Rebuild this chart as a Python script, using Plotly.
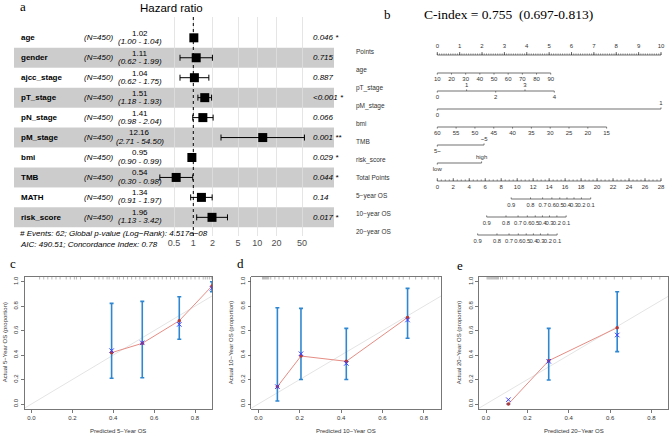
import plotly.graph_objects as go

W, H = 669, 436
SANS = "Liberation Sans, Arial, sans-serif"
SERIF = "Liberation Serif, Times New Roman, serif"

# ---------------- panel a : forest plot data ----------------
variables = ["age", "gender", "ajcc_stage", "pT_stage", "pN_stage",
             "pM_stage", "bmi", "TMB", "MATH", "risk_score"]
n_obs = [450, 450, 450, 450, 450, 450, 450, 450, 450, 450]
hr = [1.02, 1.11, 1.04, 1.51, 1.41, 12.16, 0.95, 0.54, 1.34, 1.96]
hr_low = [1.00, 0.62, 0.62, 1.18, 0.98, 2.71, 0.90, 0.30, 0.91, 1.13]
hr_high = [1.04, 1.99, 1.75, 1.93, 2.04, 54.50, 0.99, 0.98, 1.97, 3.42]
p_labels = ["0.046 *", "0.715", "0.887", "<0.001 *", "0.066",
            "0.001 **", "0.029 *", "0.044 *", "0.14", "0.017 *"]
hr_ticks = [0.5, 1, 2, 5, 10, 20, 50]
hr_ticktext = ["0.5", "1", "2", "5", "10", "20", "50"]
footer_lines = ["# Events: 62; Global p-value (Log\u2212Rank): 4.517e\u221208",
                "AIC: 490.51; Concordance Index: 0.78"]

# ---------------- panel b : nomogram data ----------------
nomo_rows = ["Points", "age", "pT_stage", "pM_stage", "bmi", "TMB", "risk_score",
             "Total Points", "5\u2212year OS", "10\u2212year OS", "20\u2212year OS"]
points_ticks = [0, 1, 2, 3, 4, 5, 6, 7, 8, 9, 10]
age_ticks = [10, 20, 30, 40, 50, 60, 70, 80, 90]
age_scale = ([10, 90], [0.0, 5.07])          # age value -> points
pt_levels = ["0", "1", "2", "3", "4"]
pt_points = [0.0, 1.31, 2.61, 3.92, 5.23]
pm_levels = ["0", "1"]
pm_points = [0.0, 10.0]
bmi_ticks = [60, 55, 50, 45, 40, 35, 30, 25, 20, 15]
bmi_scale = ([60, 15], [0.0, 7.57])
tmb_levels = ["5~", "~5"]
tmb_points = [0.0, 2.09]
risk_levels = ["low", "high"]
risk_points = [0.0, 1.98]
total_ticks = list(range(0, 29, 2))
total_max = 28
surv_labels = ["0.9", "0.8", "0.7", "0.6", "0.5", "0.4", "0.3", "0.2", "0.1"]
os5_tp = [9.25, 11.67, 13.18, 14.34, 15.33, 16.23, 17.11, 18.04, 19.20]
os10_tp = [6.18, 8.60, 10.11, 11.27, 12.26, 13.16, 14.04, 14.97, 16.13]
os20_tp = [5.05, 7.47, 8.98, 10.14, 11.13, 12.03, 12.91, 13.84, 15.00]
cindex_text = "C-index = 0.755 \u00a0(0.697-0.813)"

# ---------------- panels c, d, e : calibration data ----------------
cal_pred = [[0.392, 0.542, 0.723, 0.883],
            [0.092, 0.206, 0.425, 0.721],
            [0.108, 0.303, 0.634]]
cal_obs = [[0.420, 0.496, 0.681, 0.965],
           [0.142, 0.392, 0.349, 0.708],
           [0.000, 0.354, 0.624]]
cal_corr = [[0.436, 0.500, 0.651, 0.946],
            [0.142, 0.411, 0.332, 0.687],
            [0.035, 0.349, 0.564]]
cal_lo = [[0.210, 0.215, 0.529, 0.918],
          [0.025, 0.200, 0.200, 0.537],
          [0.000, 0.196, 0.428]]
cal_hi = [[0.823, 0.839, 0.877, 1.000],
          [0.787, 0.782, 0.618, 0.945],
          [0.000, 0.618, 0.918]]
cal_rug = [
    [0.04, 0.06, 0.08, 0.10, 0.12, 0.14, 0.17, 0.19, 0.21, 0.22, 0.24, 0.31, 0.33,
     0.35, 0.37, 0.38, 0.40, 0.42, 0.43, 0.45, 0.47, 0.49, 0.51, 0.53, 0.55, 0.56,
     0.58, 0.60, 0.62, 0.64, 0.66, 0.68, 0.70, 0.72, 0.74, 0.76, 0.78, 0.80, 0.82,
     0.84, 0.85, 0.86, 0.87, 0.88],
    [0.02, 0.025, 0.03, 0.035, 0.04, 0.045, 0.05, 0.06, 0.08, 0.10, 0.12, 0.15, 0.17,
     0.19, 0.21, 0.23, 0.26, 0.28, 0.30, 0.33, 0.35, 0.38, 0.40, 0.42, 0.45, 0.47,
     0.50, 0.52, 0.55, 0.57, 0.60, 0.62, 0.65, 0.68, 0.70, 0.73, 0.76, 0.79, 0.82,
     0.85, 0.87],
    [0.005, 0.01, 0.015, 0.02, 0.025, 0.03, 0.035, 0.04, 0.045, 0.05, 0.055, 0.06,
     0.07, 0.08, 0.10, 0.13, 0.16, 0.19, 0.22, 0.25, 0.28, 0.31, 0.34, 0.37, 0.40,
     0.43, 0.46, 0.49, 0.52, 0.55, 0.58, 0.62, 0.66, 0.70, 0.75, 0.80, 0.84]]
cal_horizon = ["5", "10", "20"]
cal_xticks = [0, 0.2, 0.4, 0.6, 0.8]
cal_yticks = [0, 0.2, 0.4, 0.6, 0.8, 1.0]


def fx(px):
    return px / W


def fy(py):
    return 1 - py / H


fig = go.Figure()
annotations = []
shapes = []


def ann(text, x, y, size, xref="paper", yref="paper", xanchor="center",
        yanchor="middle", family=SANS, color="black", angle=0):
    annotations.append(dict(text=text, x=x, y=y, xref=xref, yref=yref,
                            xanchor=xanchor, yanchor=yanchor, showarrow=False,
                            textangle=angle,
                            font=dict(family=family, size=size, color=color)))


def segments(x0, y0, x1, y1, xa, ya, color, width, dash="solid"):
    xs, ys = [], []
    for a, b, c, d in zip(x0, y0, x1, y1):
        xs += [a, c, None]
        ys += [b, d, None]
    return go.Scatter(x=xs, y=ys, mode="lines", xaxis=xa, yaxis=ya,
                      line=dict(color=color, width=width, dash=dash),
                      hoverinfo="skip", showlegend=False)


# ===================== panel a =====================
rows = list(range(len(variables)))
# row centre px = 37.8 + 19.95 r ; panel spans px 17..236 vertically, 14..334 horizontally
fy_top, fy_bot = -1.043, 9.935
log_left, log_right = (14 - 193.3) / 64, (334 - 193.3) / 64

for r in rows:
    shapes.append(dict(type="rect", xref="x", yref="y",
                       x0=10 ** log_left, x1=10 ** log_right, y0=r - 0.5, y1=r + 0.5,
                       fillcolor="rgba(0,0,0,0.2)" if r % 2 == 1 else "rgba(255,255,255,0.2)",
                       line=dict(width=0), layer="below"))

fig.add_trace(go.Scatter(x=[1, 1], y=[fy_top, fy_bot], mode="lines",
                         line=dict(color="black", width=1, dash="dot"),
                         xaxis="x", yaxis="y", hoverinfo="skip", showlegend=False))
fig.add_trace(go.Scatter(
    x=hr, y=rows, mode="markers", xaxis="x", yaxis="y",
    marker=dict(symbol="square", size=9, color="black"),
    error_x=dict(type="data", symmetric=False,
                 array=[h - m for h, m in zip(hr_high, hr)],
                 arrayminus=[m - l for m, l in zip(hr, hr_low)],
                 color="black", thickness=1, width=3),
    hoverinfo="skip", showlegend=False))

for r in rows:
    ann("<b>%s</b>" % variables[r], fx(19), r, 8, yref="y", xanchor="left")
    ann("<i>(N=%d)</i>" % n_obs[r], fx(82), r, 8, yref="y", xanchor="left")
    ann("%.2f" % hr[r], fx(139.5), r - 0.23, 8, yref="y")
    ann("<i>(%.2f - %.2f)</i>" % (hr_low[r], hr_high[r]), fx(140), r + 0.18, 8, yref="y")
    ann("<i>%s</i>" % p_labels[r], fx(310.5), r, 8, yref="y", xanchor="left")

ann("<i>%s</i>" % footer_lines[0], fx(18), fy(233.8), 8, xanchor="left")
ann("<i>%s</i>" % footer_lines[1], fx(18), fy(244.2), 8, xanchor="left")
ann("Hazard ratio", fx(171), fy(8), 11.5)
ann("a", fx(23), fy(7), 13, family=SERIF)

# ===================== panel b =====================
def p_of_px(px):
    return (px - 437.3) / 22.37


L0, S = 55.0, 18.0      # px of first axis line, px per row
ny_top, ny_bot = (25 - L0) / S, (262 - L0) / S
t_short = 1.6 / S
t_long = 3.0 / S
below = 6.6 / S
above = 5.2 / S
ncol = "#333333"
nfont = 6.0


def lin(vals, scale):
    (v0, v1), (p0, p1) = scale
    return [p0 + (v - v0) * (p1 - p0) / (v1 - v0) for v in vals]


def text_trace(xs, ys, texts, pos="middle center", size=nfont):
    return go.Scatter(x=xs, y=ys, text=texts, mode="text", textposition=pos,
                      textfont=dict(family=SANS, size=size, color=ncol),
                      xaxis="x2", yaxis="y2", hoverinfo="skip", showlegend=False,
                      cliponaxis=False)


# row labels
fig.add_trace(text_trace([p_of_px(356)] * len(nomo_rows),
                         [r - 0.12 for r in range(len(nomo_rows))],
                         nomo_rows, pos="middle right", size=6.5))

# Points axis (row 0)
r = 0
fig.add_trace(segments([0], [r], [10], [r], "x2", "y2", ncol, 0.7))
minor = [i / 10 for i in range(0, 101)]
fig.add_trace(segments(minor, [r] * len(minor), minor, [r - t_short] * len(minor),
                       "x2", "y2", ncol, 0.5))
fig.add_trace(segments(points_ticks, [r] * 11, points_ticks, [r - t_long] * 11,
                       "x2", "y2", ncol, 0.7))
fig.add_trace(text_trace(points_ticks, [r - 0.45] * 11, [str(v) for v in points_ticks]))

# age (row 1)
r = 1
ap = lin(age_ticks, age_scale)
fig.add_trace(segments([ap[0]], [r], [ap[-1]], [r], "x2", "y2", ncol, 0.7))
fig.add_trace(segments(ap, [r] * len(ap), ap, [r + t_short] * len(ap), "x2", "y2", ncol, 0.6))
fig.add_trace(text_trace(ap, [r + below] * len(ap), [str(v) for v in age_ticks]))

# pT_stage (row 2)
r = 2
fig.add_trace(segments([pt_points[0]], [r], [pt_points[-1]], [r], "x2", "y2", ncol, 0.7))
bel = [i for i in range(len(pt_levels)) if i % 2 == 0]
abv = [i for i in range(len(pt_levels)) if i % 2 == 1]
fig.add_trace(segments([pt_points[i] for i in bel], [r] * len(bel),
                       [pt_points[i] for i in bel], [r + t_short] * len(bel), "x2", "y2", ncol, 0.6))
fig.add_trace(segments([pt_points[i] for i in abv], [r] * len(abv),
                       [pt_points[i] for i in abv], [r - t_short] * len(abv), "x2", "y2", ncol, 0.6))
fig.add_trace(text_trace([pt_points[i] for i in bel], [r + below] * len(bel), [pt_levels[i] for i in bel]))
fig.add_trace(text_trace([pt_points[i] for i in abv], [r - above] * len(abv), [pt_levels[i] for i in abv]))


def two_level(r, pts, labs):
    fig.add_trace(segments([pts[0]], [r], [pts[1]], [r], "x2", "y2", ncol, 0.7))
    fig.add_trace(segments([pts[0], pts[1]], [r, r], [pts[0], pts[1]],
                           [r + t_short, r - t_short], "x2", "y2", ncol, 0.6))
    fig.add_trace(text_trace([pts[0]], [r + below], [labs[0]]))
    fig.add_trace(text_trace([pts[1]], [r - above], [labs[1]]))


two_level(3, pm_points, pm_levels)

# bmi (row 4)
r = 4
bp = lin(bmi_ticks, bmi_scale)
fig.add_trace(segments([bp[0]], [r], [bp[-1]], [r], "x2", "y2", ncol, 0.7))
fig.add_trace(segments(bp, [r] * len(bp), bp, [r + t_short] * len(bp), "x2", "y2", ncol, 0.6))
fig.add_trace(text_trace(bp, [r + below] * len(bp), [str(v) for v in bmi_ticks]))

two_level(5, tmb_points, tmb_levels)
two_level(6, risk_points, risk_levels)

# Total points (row 7)
r = 7
k = 10.0 / total_max
fig.add_trace(segments([0], [r], [total_max * k], [r], "x2", "y2", ncol, 0.7))
tminor = [i * 0.5 * k for i in range(0, 2 * total_max + 1)]
fig.add_trace(segments(tminor, [r] * len(tminor), tminor, [r - t_short] * len(tminor),
                       "x2", "y2", ncol, 0.5))
tmaj = [v * k for v in total_ticks]
fig.add_trace(segments(tmaj, [r] * len(tmaj), tmaj, [r - t_long] * len(tmaj), "x2", "y2", ncol, 0.6))
fig.add_trace(text_trace(tmaj, [r + below] * len(tmaj), [str(v) for v in total_ticks]))

# survival axes (rows 8-10)
for r, tp in zip([8, 9, 10], [os5_tp, os10_tp, os20_tp]):
    xs = [v * k for v in tp]
    fig.add_trace(segments([xs[0]], [r], [xs[-1]], [r], "x2", "y2", ncol, 0.7))
    fig.add_trace(segments(xs, [r] * len(xs), xs, [r - t_short] * len(xs), "x2", "y2", ncol, 0.6))
    fig.add_trace(text_trace(xs, [r + below] * len(xs), surv_labels, size=5.8))

ann("b", fx(387), fy(14), 13, family=SERIF)
ann(cindex_text, fx(508), fy(14), 13.5, family=SERIF)

# ===================== panels c, d, e =====================
cal_boxes = [(24.5, 212.2), (251.3, 441.3), (479.0, 668.5)]
cal_ranges = [(-0.034, 0.884), (-0.034, 0.884), (-0.034, 0.884 - 0.002)]
box_top, box_bot = 276.8, 408.9
ytitle_x = [4.5, 230.5, 458.5]
letters = [("c", 13, 263), ("d", 240, 263), ("e", 460, 265)]
blue = "#2f87d2"

axis_layout = {}
for i in range(3):
    xa, ya = "x%d" % (i + 3), "y%d" % (i + 3)
    fig.add_trace(go.Scatter(x=[-0.1, 1.1], y=[-0.1, 1.1], mode="lines",
                             line=dict(color="#e4e4e4", width=1), xaxis=xa, yaxis=ya,
                             hoverinfo="skip", showlegend=False))
    rug = cal_rug[i]
    fig.add_trace(segments(rug, [1.04] * len(rug), rug, [1.018] * len(rug), xa, ya, "#8a8a8a", 0.6))
    fig.add_trace(go.Scatter(
        x=cal_pred[i], y=cal_obs[i], mode="markers", xaxis=xa, yaxis=ya,
        marker=dict(size=1, color="rgba(0,0,0,0)"),
        error_y=dict(type="data", symmetric=False,
                     array=[h - o for h, o in zip(cal_hi[i], cal_obs[i])],
                     arrayminus=[o - l for o, l in zip(cal_obs[i], cal_lo[i])],
                     color=blue, thickness=1.6, width=2),
        hoverinfo="skip", showlegend=False))
    fig.add_trace(go.Scatter(x=cal_pred[i], y=cal_obs[i], mode="lines+markers",
                             xaxis=xa, yaxis=ya,
                             line=dict(color="#e58d84", width=1),
                             marker=dict(size=3.5, color="#b23a3a"),
                             hoverinfo="skip", showlegend=False))
    fig.add_trace(go.Scatter(x=cal_pred[i], y=cal_corr[i], mode="markers",
                             xaxis=xa, yaxis=ya,
                             marker=dict(symbol="x-thin", size=4.5,
                                         line=dict(color="#3b3bff", width=1)),
                             hoverinfo="skip", showlegend=False))
    x0, x1 = cal_boxes[i]
    common = dict(showline=True, mirror=True, linecolor="#555555", linewidth=0.8,
                  ticks="outside", ticklen=3, tickcolor="#555555", tickwidth=0.8,
                  showgrid=False, zeroline=False,
                  tickfont=dict(family=SANS, size=6, color="#333333"))
    axis_layout["xaxis%d" % (i + 3)] = dict(
        domain=[fx(x0), fx(x1)], range=list(cal_ranges[i]), anchor=ya,
        tickvals=cal_xticks, ticktext=["%.1f" % v for v in cal_xticks], **common)
    axis_layout["yaxis%d" % (i + 3)] = dict(
        domain=[fy(box_bot), fy(box_top)], range=[-0.04, 1.04], anchor=xa,
        tickvals=cal_yticks, ticktext=["%.1f" % v for v in cal_yticks], tickangle=-90,
        **common)
    ann("Predicted %s\u2212Year OS" % cal_horizon[i], fx((x0 + x1) / 2), fy(430.5), 6,
        color="#333333")
    ann("Actual %s\u2212Year OS (proportion)" % cal_horizon[i], fx(ytitle_x[i]),
        fy((box_top + box_bot) / 2), 6, color="#333333", angle=-90)
    lt, lx, ly = letters[i]
    ann(lt, fx(lx), fy(ly), 13, family=SERIF)

fig.update_layout(
    width=W, height=H, margin=dict(l=0, r=0, t=0, b=0),
    paper_bgcolor="white", plot_bgcolor="rgba(0,0,0,0)",
    template="none", showlegend=False,
    xaxis=dict(type="log", domain=[fx(14), fx(334)], range=[log_left, log_right],
               anchor="y", tickvals=hr_ticks, ticktext=hr_ticktext,
               showgrid=True, gridcolor="#dedede", gridwidth=0.8, zeroline=False,
               showline=False, ticks="", ticklen=0,
               tickfont=dict(family=SANS, size=9, color="#4d4d4d")),
    yaxis=dict(domain=[fy(236), fy(17)], range=[fy_bot, fy_top], anchor="x",
               visible=False, showgrid=False, zeroline=False),
    xaxis2=dict(domain=[fx(350), 1.0], range=[p_of_px(350), p_of_px(669)], anchor="y2",
                visible=False, showgrid=False, zeroline=False),
    yaxis2=dict(domain=[fy(262), fy(25)], range=[ny_bot, ny_top], anchor="x2",
                visible=False, showgrid=False, zeroline=False),
    annotations=annotations, shapes=shapes,
    **axis_layout)

fig.write_html("out.html",
               config={"displayModeBar": False, "staticPlot": True},
               post_script="document.body.style.margin='0';document.body.style.padding='0';"
                           "document.body.style.overflow='hidden';")
